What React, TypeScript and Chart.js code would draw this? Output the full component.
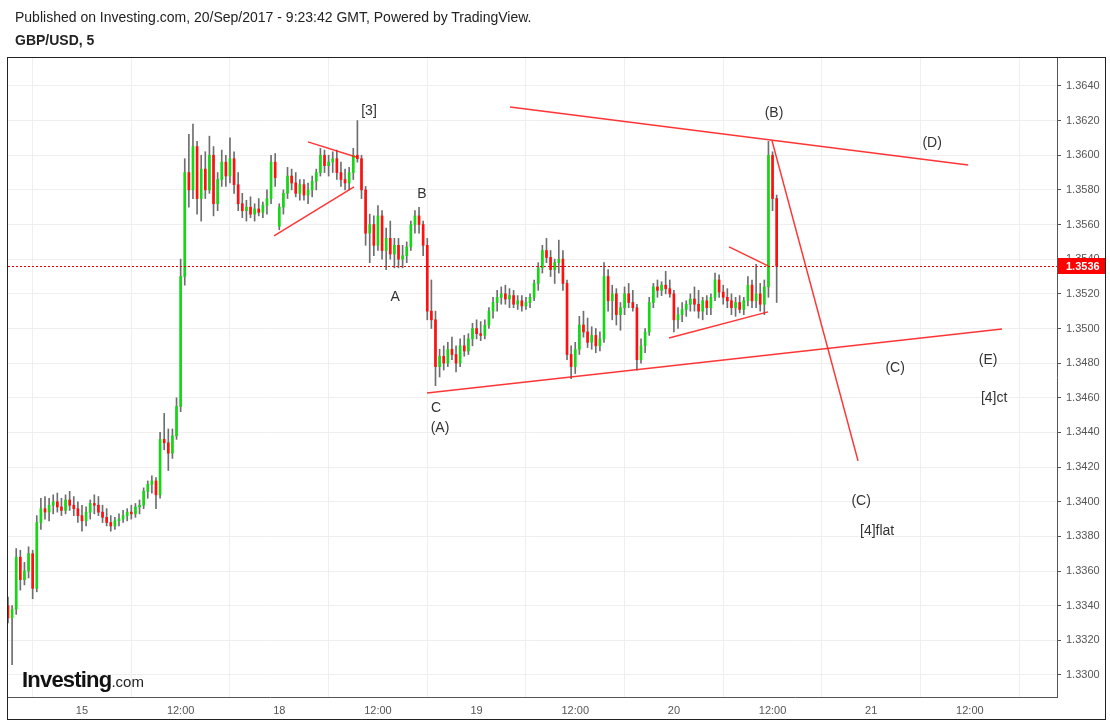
import { useEffect, useRef } from 'react';
import { Chart, registerables } from 'chart.js';

Chart.register(...registerables);

type OHLC = [number, number, number, number];

// 30-minute candles [open, high, low, close], GBP/USD
const SEP14: OHLC[] = [
  [1.3340, 1.3345, 1.3330, 1.3333], [1.3333, 1.3340, 1.3306, 1.3338], [1.3338, 1.3373, 1.3335, 1.3368],
  [1.3368, 1.3372, 1.3349, 1.3355], [1.3355, 1.3365, 1.3352, 1.3360], [1.3360, 1.3374, 1.3356, 1.3370],
  [1.3370, 1.3372, 1.3344, 1.3350], [1.3350, 1.3392, 1.3348, 1.3388], [1.3388, 1.3402, 1.3384, 1.3396],
  [1.3396, 1.3403, 1.3390, 1.3394], [1.3394, 1.3402, 1.3389, 1.3398], [1.3398, 1.3404, 1.3393, 1.3400],
  [1.3400, 1.3405, 1.3394, 1.3397], [1.3397, 1.3402, 1.3392, 1.3395], [1.3395, 1.3404, 1.3393, 1.3401],
  [1.3401, 1.3406, 1.3395, 1.3398], [1.3398, 1.3403, 1.3392, 1.3396], [1.3396, 1.3400, 1.3388, 1.3392],
];
const SEP15: OHLC[] = [
  [1.3392, 1.3398, 1.3383, 1.3389], [1.3389, 1.3397, 1.3386, 1.3394], [1.3394, 1.3401, 1.3390, 1.3399],
  [1.3399, 1.3404, 1.3393, 1.3398], [1.3398, 1.3403, 1.3392, 1.3394], [1.3394, 1.3398, 1.3388, 1.3391],
  [1.3391, 1.3396, 1.3386, 1.3388], [1.3388, 1.3392, 1.3383, 1.3386], [1.3386, 1.3391, 1.3384, 1.3389],
  [1.3389, 1.3393, 1.3386, 1.3390], [1.3390, 1.3395, 1.3388, 1.3392], [1.3392, 1.3396, 1.3389, 1.3394],
  [1.3394, 1.3398, 1.3390, 1.3393], [1.3393, 1.3399, 1.3391, 1.3397], [1.3397, 1.3401, 1.3393, 1.3398],
  [1.3398, 1.3408, 1.3396, 1.3406], [1.3406, 1.3412, 1.3402, 1.3410], [1.3410, 1.3415, 1.3405, 1.3412],
  [1.3412, 1.3414, 1.3396, 1.3404], [1.3404, 1.3440, 1.3402, 1.3436], [1.3436, 1.3451, 1.3430, 1.3434],
  [1.3434, 1.3442, 1.3418, 1.3428], [1.3428, 1.3442, 1.3425, 1.3438], [1.3438, 1.3460, 1.3436, 1.3455],
  [1.3455, 1.3540, 1.3452, 1.3530], [1.3530, 1.3598, 1.3525, 1.3590], [1.3590, 1.3612, 1.3570, 1.3580],
  [1.3580, 1.3618, 1.3575, 1.3605], [1.3605, 1.3608, 1.3566, 1.3575], [1.3575, 1.3600, 1.3562, 1.3592],
  [1.3592, 1.3602, 1.3575, 1.3580], [1.3580, 1.3611, 1.3578, 1.3600], [1.3600, 1.3605, 1.3565, 1.3572],
  [1.3572, 1.3590, 1.3568, 1.3586], [1.3586, 1.3603, 1.3582, 1.3596], [1.3596, 1.3600, 1.3582, 1.3588],
  [1.3588, 1.3610, 1.3584, 1.3598], [1.3598, 1.3602, 1.3578, 1.3583], [1.3583, 1.3590, 1.3568, 1.3572],
  [1.3572, 1.3578, 1.3564, 1.3568], [1.3568, 1.3574, 1.3562, 1.3570], [1.3570, 1.3576, 1.3564, 1.3566],
  [1.3566, 1.3572, 1.3562, 1.3569], [1.3569, 1.3575, 1.3565, 1.3567], [1.3567, 1.3573, 1.3564, 1.3571],
  [1.3571, 1.3580, 1.3566, 1.3575], [1.3575, 1.3600, 1.3572, 1.3596], [1.3596, 1.3601, 1.3582, 1.3587],
];
const SEP18: OHLC[] = [
  [1.3559, 1.3572, 1.3557, 1.3570], [1.3570, 1.3580, 1.3566, 1.3578], [1.3578, 1.3593, 1.3575, 1.3588],
  [1.3588, 1.3592, 1.3580, 1.3584], [1.3584, 1.3590, 1.3576, 1.3578], [1.3578, 1.3586, 1.3574, 1.3583],
  [1.3583, 1.3586, 1.3574, 1.3577], [1.3577, 1.3584, 1.3572, 1.3580], [1.3580, 1.3588, 1.3576, 1.3585],
  [1.3585, 1.3592, 1.3580, 1.3590], [1.3590, 1.3604, 1.3588, 1.3600], [1.3600, 1.3603, 1.3590, 1.3594],
  [1.3594, 1.3600, 1.3588, 1.3596], [1.3596, 1.3602, 1.3590, 1.3598], [1.3598, 1.3603, 1.3586, 1.3590],
  [1.3590, 1.3596, 1.3582, 1.3586], [1.3586, 1.3592, 1.3580, 1.3584], [1.3584, 1.3593, 1.3580, 1.3590],
  [1.3590, 1.3604, 1.3586, 1.3600], [1.3600, 1.3620, 1.3596, 1.3598], [1.3598, 1.3600, 1.3575, 1.3580],
  [1.3580, 1.3582, 1.3548, 1.3555], [1.3555, 1.3566, 1.3538, 1.3560], [1.3560, 1.3565, 1.3542, 1.3548],
  [1.3548, 1.3571, 1.3545, 1.3565], [1.3565, 1.3568, 1.3540, 1.3545], [1.3545, 1.3558, 1.3534, 1.3552],
  [1.3552, 1.3562, 1.3540, 1.3543], [1.3543, 1.3552, 1.3535, 1.3548], [1.3548, 1.3552, 1.3535, 1.3540],
  [1.3540, 1.3548, 1.3535, 1.3542], [1.3542, 1.3550, 1.3538, 1.3547], [1.3547, 1.3562, 1.3545, 1.3560],
  [1.3560, 1.3568, 1.3555, 1.3565], [1.3565, 1.3570, 1.3555, 1.3560], [1.3560, 1.3562, 1.3542, 1.3548],
  [1.3548, 1.3552, 1.3505, 1.3510], [1.3510, 1.3528, 1.3500, 1.3505], [1.3505, 1.3510, 1.3467, 1.3478],
  [1.3478, 1.3488, 1.3472, 1.3484], [1.3484, 1.3490, 1.3476, 1.3480], [1.3480, 1.3492, 1.3478, 1.3488],
  [1.3488, 1.3495, 1.3482, 1.3485], [1.3485, 1.3490, 1.3475, 1.3480], [1.3480, 1.3494, 1.3478, 1.3490],
  [1.3490, 1.3496, 1.3484, 1.3487], [1.3487, 1.3497, 1.3485, 1.3494], [1.3494, 1.3503, 1.3490, 1.3500],
];
const SEP19: OHLC[] = [
  [1.3500, 1.3505, 1.3494, 1.3497], [1.3497, 1.3504, 1.3493, 1.3496], [1.3496, 1.3505, 1.3494, 1.3502],
  [1.3502, 1.3512, 1.3500, 1.3510], [1.3510, 1.3518, 1.3506, 1.3515], [1.3515, 1.3522, 1.3510, 1.3518],
  [1.3518, 1.3524, 1.3514, 1.3520], [1.3520, 1.3525, 1.3514, 1.3517], [1.3517, 1.3523, 1.3512, 1.3519],
  [1.3519, 1.3522, 1.3512, 1.3514], [1.3514, 1.3519, 1.3511, 1.3516], [1.3516, 1.3519, 1.3510, 1.3513],
  [1.3513, 1.3518, 1.3511, 1.3515], [1.3515, 1.3520, 1.3512, 1.3518], [1.3518, 1.3528, 1.3516, 1.3526],
  [1.3526, 1.3538, 1.3522, 1.3535], [1.3535, 1.3548, 1.3532, 1.3545], [1.3545, 1.3552, 1.3538, 1.3541],
  [1.3541, 1.3545, 1.3530, 1.3534], [1.3534, 1.3540, 1.3526, 1.3538], [1.3538, 1.3551, 1.3532, 1.3540],
  [1.3540, 1.3545, 1.3522, 1.3526], [1.3526, 1.3528, 1.3482, 1.3485], [1.3485, 1.3490, 1.3471, 1.3478],
  [1.3478, 1.3492, 1.3474, 1.3488], [1.3488, 1.3507, 1.3485, 1.3502], [1.3502, 1.3510, 1.3495, 1.3498],
  [1.3498, 1.3506, 1.3489, 1.3492], [1.3492, 1.3501, 1.3488, 1.3496], [1.3496, 1.3500, 1.3486, 1.3490],
  [1.3490, 1.3498, 1.3487, 1.3494], [1.3494, 1.3538, 1.3492, 1.3530], [1.3530, 1.3534, 1.3510, 1.3516],
  [1.3516, 1.3525, 1.3505, 1.3520], [1.3520, 1.3523, 1.3502, 1.3508], [1.3508, 1.3515, 1.3499, 1.3512],
  [1.3512, 1.3524, 1.3508, 1.3520], [1.3520, 1.3526, 1.3512, 1.3515], [1.3515, 1.3522, 1.3510, 1.3512],
  [1.3512, 1.3514, 1.3476, 1.3482], [1.3482, 1.3494, 1.3480, 1.3490], [1.3490, 1.3500, 1.3486, 1.3498],
  [1.3498, 1.3518, 1.3496, 1.3515], [1.3515, 1.3526, 1.3512, 1.3524], [1.3524, 1.3528, 1.3518, 1.3522],
  [1.3522, 1.3527, 1.3519, 1.3525], [1.3525, 1.3533, 1.3520, 1.3523], [1.3523, 1.3528, 1.3518, 1.3520],
];
const SEP20: OHLC[] = [
  [1.3520, 1.3522, 1.3498, 1.3505], [1.3505, 1.3512, 1.3500, 1.3508], [1.3508, 1.3515, 1.3504, 1.3511],
  [1.3511, 1.3516, 1.3507, 1.3514], [1.3514, 1.3520, 1.3510, 1.3517], [1.3517, 1.3524, 1.3510, 1.3514],
  [1.3514, 1.3522, 1.3506, 1.3510], [1.3510, 1.3518, 1.3505, 1.3516], [1.3516, 1.3519, 1.3508, 1.3512],
  [1.3512, 1.3520, 1.3508, 1.3518], [1.3518, 1.3532, 1.3516, 1.3528], [1.3528, 1.3531, 1.3518, 1.3521],
  [1.3521, 1.3525, 1.3514, 1.3518], [1.3518, 1.3523, 1.3512, 1.3516], [1.3516, 1.3520, 1.3508, 1.3512],
  [1.3512, 1.3518, 1.3507, 1.3515], [1.3515, 1.3519, 1.3509, 1.3511], [1.3511, 1.3518, 1.3508, 1.3516],
  [1.3516, 1.3530, 1.3513, 1.3525], [1.3525, 1.3528, 1.3512, 1.3516], [1.3516, 1.3537, 1.3512, 1.3520],
  [1.3520, 1.3526, 1.3510, 1.3514], [1.3514, 1.3528, 1.3508, 1.3524], [1.3524, 1.3608, 1.3518, 1.3600],
  [1.3600, 1.3602, 1.3568, 1.3575], [1.3575, 1.3577, 1.3515, 1.3536],
];

// session start, in trading hours from 15 Sep 00:00 (weekend removed)
const SESSION_STARTS = [-9, 0, 24, 48, 72];
const SESSIONS = [SEP14, SEP15, SEP18, SEP19, SEP20];
const CANDLE_HOURS = 0.5;

const X_TICKS = [0, 12, 24, 36, 48, 60, 72, 84, 96, 108];
const X_LABELS = ['15', '12:00', '18', '12:00', '19', '12:00', '20', '12:00', '21', '12:00'];
const Y_TICKS = [1.33, 1.332, 1.334, 1.336, 1.338, 1.34, 1.342, 1.344, 1.346, 1.348, 1.35, 1.352, 1.354, 1.356, 1.358, 1.36, 1.362, 1.364];
const X_MIN = -9;
const X_MAX = 118.6;
const Y_MIN = 1.32873;
const Y_MAX = 1.36567;
const LAST_PRICE = 1.3536;

// trend lines: [t1, p1, t2, p2]
const TREND_LINES: [number, number, number, number][] = [
  [52.07, 1.36279, 107.79, 1.35944],
  [41.97, 1.34628, 111.92, 1.34997],
  [27.49, 1.36077, 33.33, 1.3599],
  [23.36, 1.35534, 33.09, 1.35817],
  [78.71, 1.35471, 83.45, 1.35361],
  [71.41, 1.34945, 83.45, 1.35096],
  [83.94, 1.36083, 94.4, 1.34236],
];

const WAVE_TEXT = ['[3]', 'B', 'A', 'C', '(A)', '(B)', '(D)', '(C)', '(E)', '[4]ct', '(C)', '[4]flat'];
const WAVE_T = [34.91, 41.36, 38.08, 43.07, 43.55, 84.18, 103.41, 98.91, 110.22, 110.95, 94.77, 96.72];
const WAVE_P = [1.36256, 1.35777, 1.35182, 1.34541, 1.34426, 1.36244, 1.36071, 1.34772, 1.34818, 1.34599, 1.34005, 1.33831];

const GREEN = '#14d814';
const RED = '#ff1010';
const WICK = '#6e6e6e';
const LINE_RED = 'rgba(255,30,30,0.9)';
const FONT = '"Liberation Sans", Arial, sans-serif';

export default function App() {
  const ref = useRef<HTMLCanvasElement | null>(null);

  useEffect(() => {
    const canvas = ref.current;
    if (!canvas) return;
    const candles: { t: number; o: number; h: number; l: number; c: number }[] = [];
    SESSIONS.forEach((s, si) =>
      s.forEach((k, i) => candles.push({ t: SESSION_STARTS[si] + i * CANDLE_HOURS, o: k[0], h: k[1], l: k[2], c: k[3] }))
    );

    const overlay = {
      id: 'overlay',
      beforeDraw(chart: any) {
        const ctx = chart.ctx;
        ctx.save();
        ctx.fillStyle = '#fff';
        ctx.fillRect(0, 0, chart.width, chart.height);
        ctx.restore();
      },
      afterDatasetsDraw(chart: any) {
        const ctx = chart.ctx;
        const xs = chart.scales.x;
        const ys = chart.scales.y;
        const area = chart.chartArea;
        ctx.save();
        const py = Math.round(ys.getPixelForValue(LAST_PRICE)) + 0.5;
        ctx.strokeStyle = '#e00000';
        ctx.lineWidth = 1;
        ctx.setLineDash([2, 2]);
        ctx.beginPath();
        ctx.moveTo(area.left, py);
        ctx.lineTo(area.right, py);
        ctx.stroke();
        ctx.setLineDash([]);
        ctx.fillStyle = '#333';
        ctx.font = '14px ' + FONT;
        ctx.textAlign = 'center';
        ctx.textBaseline = 'middle';
        WAVE_TEXT.forEach((txt, i) => {
          ctx.fillText(txt, xs.getPixelForValue(WAVE_T[i]), ys.getPixelForValue(WAVE_P[i]));
        });
        ctx.restore();
      },
      afterDraw(chart: any) {
        const ctx = chart.ctx;
        const ys = chart.scales.y;
        const area = chart.chartArea;
        ctx.save();
        const py = ys.getPixelForValue(LAST_PRICE);
        ctx.fillStyle = '#f00';
        ctx.fillRect(area.right + 1, Math.round(py) - 8, 47, 16);
        ctx.fillStyle = '#fff';
        ctx.font = 'bold 11px ' + FONT;
        ctx.textAlign = 'left';
        ctx.textBaseline = 'middle';
        ctx.fillText(LAST_PRICE.toFixed(4), area.right + 9, Math.round(py) + 0.5);
        ctx.strokeStyle = '#222';
        ctx.lineWidth = 1;
        ctx.strokeRect(7.5, 57.5, 1098, 662);
        ctx.restore();
      },
    };

    const chart = new Chart(canvas, {
      type: 'bar',
      data: {
        datasets: [
          {
            type: 'bar',
            data: candles.map((k) => ({ x: k.t, y: [k.l, k.h] })),
            backgroundColor: WICK,
            barThickness: 1,
            grouped: false,
            order: 3,
          } as any,
          {
            type: 'bar',
            data: candles.map((k) => ({ x: k.t, y: [k.o, k.c] })),
            backgroundColor: candles.map((k) => (k.c >= k.o ? GREEN : RED)),
            barThickness: 2,
            minBarLength: 1,
            grouped: false,
            order: 2,
          } as any,
          ...TREND_LINES.map(
            (l) =>
              ({
                type: 'line',
                data: [
                  { x: l[0], y: l[1] },
                  { x: l[2], y: l[3] },
                ],
                borderColor: LINE_RED,
                borderWidth: 1.5,
                pointRadius: 0,
                order: 1,
              } as any)
          ),
        ],
      },
      options: {
        animation: false,
        responsive: false,
        devicePixelRatio: 1,
        events: [],
        layout: { padding: { left: 8, top: 57, right: 4, bottom: 2 } },
        plugins: { legend: { display: false }, tooltip: { enabled: false } },
        scales: {
          x: {
            type: 'linear',
            min: X_MIN,
            max: X_MAX,
            offset: false,
            afterBuildTicks: (s: any) => {
              s.ticks = X_TICKS.map((v) => ({ value: v }));
            },
            afterFit: (s: any) => {
              s.height = 23;
            },
            ticks: {
              autoSkip: false,
              maxRotation: 0,
              padding: 7,
              color: '#555',
              font: { family: FONT, size: 11 },
              callback: (v: any) => {
                const i = X_TICKS.indexOf(Number(v));
                return i >= 0 ? X_LABELS[i] : '';
              },
            },
            grid: { color: '#efefef', drawTicks: false },
            border: { display: true, color: '#555' },
          },
          y: {
            type: 'linear',
            position: 'right',
            min: Y_MIN,
            max: Y_MAX,
            afterBuildTicks: (s: any) => {
              s.ticks = Y_TICKS.map((v) => ({ value: v }));
            },
            afterFit: (s: any) => {
              s.width = 49;
            },
            ticks: {
              padding: 5,
              color: '#555',
              font: { family: FONT, size: 11 },
              callback: (v: any) => Number(v).toFixed(4),
            },
            grid: { color: '#efefef', tickLength: 4, tickColor: '#555' },
            border: { display: true, color: '#555' },
          },
        },
      } as any,
      plugins: [overlay],
    });
    return () => chart.destroy();
  }, []);

  return (
    <div style={{ position: 'fixed', left: 0, top: 0, width: 1110, height: 722, fontFamily: FONT }}>
      <canvas ref={ref} width={1110} height={722} style={{ position: 'absolute', left: 0, top: 0, display: 'block' }} />
      <div style={{ position: 'absolute', left: 15, top: 9, fontSize: 14, color: '#222', whiteSpace: 'nowrap' }}>
        Published on Investing.com, 20/Sep/2017 - 9:23:42 GMT, Powered by TradingView.
      </div>
      <div style={{ position: 'absolute', left: 15, top: 32, fontSize: 14, fontWeight: 'bold', color: '#222' }}>GBP/USD, 5</div>
      <div style={{ position: 'absolute', left: 22, top: 667, whiteSpace: 'nowrap', color: '#111' }}>
        <span style={{ fontSize: 22, fontWeight: 'bold', letterSpacing: -0.8 }}>Investing</span>
        <span style={{ fontSize: 15, color: '#222' }}>.com</span>
      </div>
    </div>
  );
}
